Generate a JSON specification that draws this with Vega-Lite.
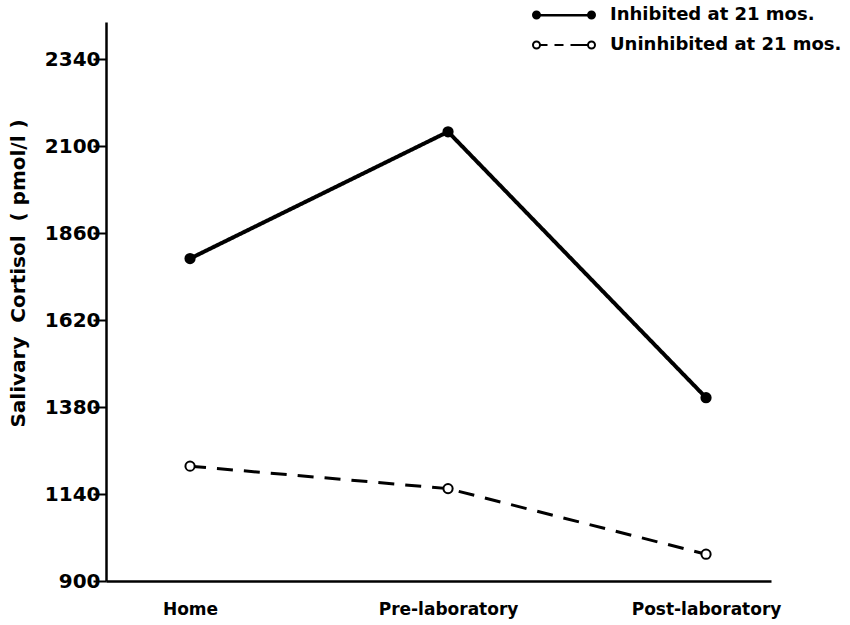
{
  "$schema": "https://vega.github.io/schema/vega-lite/v6.json",
  "width": 665,
  "height": 559,
  "autosize": {"type": "none"},
  "padding": {"left": 106, "top": 22, "right": 79, "bottom": 44},
  "background": "white",
  "config": {
    "view": {"stroke": null},
    "font": "DejaVu Sans",
    "axis": {"grid": false, "domainColor": "black", "domainWidth": 2.5, "tickColor": "black", "labelColor": "black", "titleColor": "black"}
  },
  "data": {
    "values": [
      {"phase": "Home", "group": "Inhibited at 21 mos.", "cortisol": 1790},
      {"phase": "Pre-laboratory", "group": "Inhibited at 21 mos.", "cortisol": 2140},
      {"phase": "Post-laboratory", "group": "Inhibited at 21 mos.", "cortisol": 1406},
      {"phase": "Home", "group": "Uninhibited at 21 mos.", "cortisol": 1217},
      {"phase": "Pre-laboratory", "group": "Uninhibited at 21 mos.", "cortisol": 1155},
      {"phase": "Post-laboratory", "group": "Uninhibited at 21 mos.", "cortisol": 974}
    ]
  },
  "encoding": {
    "x": {
      "field": "phase", "type": "nominal", "sort": ["Home", "Pre-laboratory", "Post-laboratory"],
      "scale": {"type": "point", "padding": 0.2888, "align": 0.564},
      "axis": {"title": null, "ticks": false, "labelAngle": 0, "labelFontSize": 17, "labelFontWeight": "bold", "labelPadding": 20, "labelFont": "DejaVu Sans"}
    },
    "y": {
      "field": "cortisol", "type": "quantitative",
      "scale": {"domain": [900, 2443], "nice": false, "zero": false},
      "axis": {
        "values": [900, 1140, 1380, 1620, 1860, 2100, 2340], "format": "d",
        "ticks": true, "tickSize": 13, "tickWidth": 2, "tickColor": "black", "labelPadding": -7, "labelFontSize": 20, "labelFont": "DejaVu Sans", "labelFontWeight": "bold",
        "encode": {"ticks": {"update": {"x2": {"value": 13}}}},
        "title": "Salivary\u00a0\u00a0Cortisol\u00a0\u00a0(\u00a0pmol/l\u00a0)", "titleFont": "DejaVu Sans", "titleFontSize": 20, "titleFontWeight": "bold",
        "titleX": -88, "titleY": 251, "titleAngle": 270, "titleBaseline": "middle", "titleAlign": "center"
      }
    }
  },
  "layer": [
    {
      "mark": {"type": "line", "color": "black"},
      "encoding": {
        "detail": {"field": "group"},
        "strokeDash": {"field": "group", "type": "nominal", "scale": {"range": [[1, 0], [16, 11]]}, "legend": null},
        "strokeWidth": {"field": "group", "type": "nominal", "scale": {"range": [4, 3]}, "legend": null}
      }
    },
    {
      "mark": {"type": "point", "shape": "circle", "stroke": "black", "strokeWidth": 2, "size": 85, "opacity": 1},
      "encoding": {
        "fill": {"field": "group", "type": "nominal", "scale": {"range": ["black", "white"]}, "legend": null}
      }
    },
    {
      "transform": [{"filter": "false"}],
      "mark": {"type": "point", "filled": false, "stroke": "black", "strokeWidth": 2, "opacity": 1},
      "encoding": {
        "shape": {
          "field": "group", "type": "nominal",
          "scale": {
            "domain": ["Inhibited at 21 mos.", "Uninhibited at 21 mos."],
            "range": [
              "M-6.2,0A0.7,0.7,0,1,0,-4.8,0A0.7,0.7,0,1,0,-6.2,0Z M-5.95,0A0.45,0.45,0,1,0,-5.05,0A0.45,0.45,0,1,0,-5.95,0Z M-5.7,0A0.2,0.2,0,1,0,-5.3,0A0.2,0.2,0,1,0,-5.7,0Z M-5.56,0A0.06,0.06,0,1,0,-5.44,0A0.06,0.06,0,1,0,-5.56,0Z M4.8,0A0.7,0.7,0,1,0,6.2,0A0.7,0.7,0,1,0,4.8,0Z M5.05,0A0.45,0.45,0,1,0,5.95,0A0.45,0.45,0,1,0,5.05,0Z M5.3,0A0.2,0.2,0,1,0,5.7,0A0.2,0.2,0,1,0,5.3,0Z M5.44,0A0.06,0.06,0,1,0,5.56,0A0.06,0.06,0,1,0,5.44,0Z M-4.8,0L4.8,0 M-4.8,0.12L4.8,0.12",
              "M-6.2,0A0.7,0.7,0,1,0,-4.8,0A0.7,0.7,0,1,0,-6.2,0Z M4.8,0A0.7,0.7,0,1,0,6.2,0A0.7,0.7,0,1,0,4.8,0Z M-4.8,0L-3.3,0 M-1.9,0L-0.1,0 M1.3,0L4.8,0"
            ]
          },
          "legend": {
            "title": null, "orient": "none", "legendX": 449, "legendY": -16, "padding": 0,
            "symbolSize": 100, "symbolStrokeWidth": 2, "symbolStrokeColor": "black", "symbolFillColor": "transparent", "symbolOpacity": 1,
            "labelFontSize": 18, "labelFont": "DejaVu Sans", "labelFontWeight": "bold", "labelOffset": 37, "rowPadding": 12, "labelLimit": 0
          }
        }
      }
    }
  ]
}
